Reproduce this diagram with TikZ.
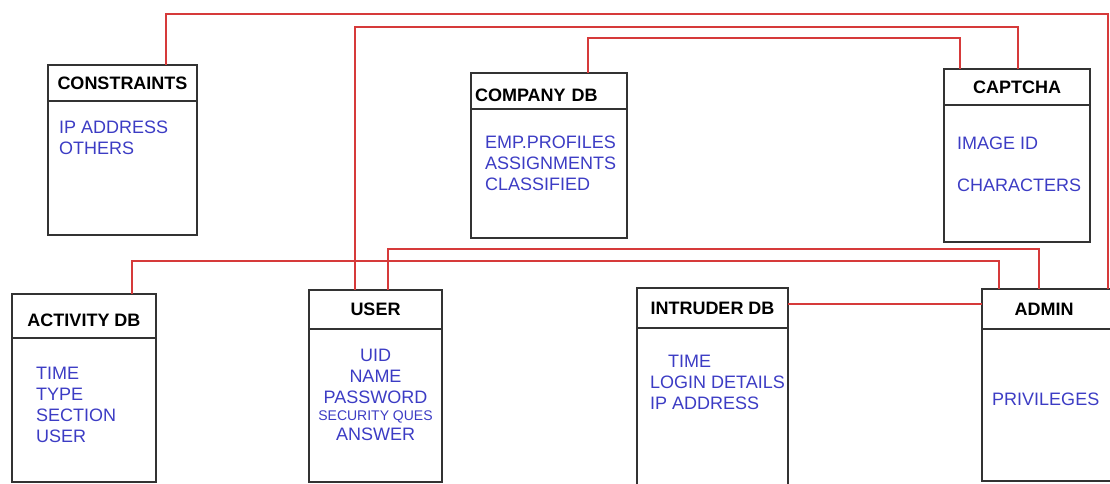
\documentclass[tikz,border=0pt]{standalone}
\usepackage{fontspec}
\setmainfont{Liberation Sans}
\usepackage{xcolor}
\definecolor{cBox}{HTML}{333333}
\definecolor{cLink}{HTML}{D63A3A}
\definecolor{cAttr}{HTML}{3C3CC4}
\usetikzlibrary{positioning,calc}
\tikzset{
  ent-head/.style={draw=cBox,line width=1.8pt,outer sep=0pt,inner sep=4pt,
    font=\fontsize{18}{21}\selectfont\bfseries},
  ent-body/.style={draw=cBox,line width=1.8pt,outer sep=0pt},
  attr-text/.style={text=cAttr,inner sep=0pt,align=left,
    font=\fontsize{18}{21}\selectfont},
  link/.style={draw=cLink,line width=1.6pt},
}

\begin{document}
\begin{tikzpicture}[x=1pt,y=-1pt]
  \useasboundingbox (0,0) rectangle (1110,484);
  \clip (0,0) rectangle (1110,484);

  % upper row
  \node[ent-head,minimum width=149,minimum height=36,anchor=north west] (cons) at (48,65) {CONSTRAINTS};
  \node[ent-body,minimum width=149,minimum height=134,below=0pt of cons] (cons-body) {};
  \node[attr-text,anchor=north west] (cons-attr) at ([shift={(11,19.5)}]cons-body.north west) {IP ADDRESS\\OTHERS};

  \node[ent-head,minimum width=156,minimum height=36,text width=148,text height=21pt,anchor=north west] (comp) at (471,73) {COMPANY DB};
  \node[ent-body,minimum width=156,minimum height=129,below=0pt of comp] (comp-body) {};
  \node[attr-text,anchor=north west] (comp-attr) at ([shift={(14,26.5)}]comp-body.north west) {EMP.PROFILES\\ASSIGNMENTS\\CLASSIFIED};

  \node[ent-head,minimum width=146,minimum height=36,anchor=north west] (capt) at (944,69) {CAPTCHA};
  \node[ent-body,minimum width=146,minimum height=137,below=0pt of capt] (capt-body) {};
  \node[attr-text,anchor=north west] (capt-attr) at ([shift={(13,31.5)}]capt-body.north west) {IMAGE ID\\[21pt]CHARACTERS};

  % lower row
  \node[ent-head,minimum width=144,minimum height=44,text height=21pt,anchor=north west] (actv) at (12,294) {ACTIVITY DB};
  \node[ent-body,minimum width=144,minimum height=144,below=0pt of actv] (actv-body) {};
  \node[attr-text,anchor=north west] (actv-attr) at ([shift={(24,29)}]actv-body.north west) {TIME\\TYPE\\SECTION\\USER};

  \node[ent-head,minimum width=133,minimum height=39,anchor=north west] (user) at (309,290) {USER};
  \node[ent-body,minimum width=133,minimum height=153,below=0pt of user] (user-body) {};
  \node[attr-text,align=center,anchor=north] (user-attr) at ([yshift=-19.5]user-body.north)
    {UID\\NAME\\PASSWORD\\[-3.5pt]{\fontsize{14}{18}\selectfont SECURITY QUES}\\[-1.5pt]ANSWER};

  \node[ent-head,minimum width=151,minimum height=40,anchor=north west] (intr) at (637,288) {INTRUDER DB};
  \node[ent-body,minimum width=151,minimum height=172,below=0pt of intr] (intr-body) {};
  \node[attr-text,anchor=north west] (intr-attr) at ([shift={(13,26.5)}]intr-body.north west) {\hspace*{18pt}TIME\\LOGIN DETAILS\\IP ADDRESS};

  \node[ent-head,minimum width=138,minimum height=40,text width=130,align=left,anchor=north west] (admin) at (982,289) {\hspace*{28.5pt}ADMIN};
  \node[ent-body,minimum width=138,minimum height=152,below=0pt of admin] (admin-body) {};
  \node[attr-text,anchor=north west] (admin-attr) at ([shift={(10,63.5)}]admin-body.north west) {PRIVILEGES};

  % relations
  \draw[link] ([xshift=43.5]cons.north) -- ++(0,-51) -| ([xshift=57]admin.north);
  \draw[link] ([xshift=-20.5]user.north) -- ++(0,-263) -| ([xshift=1]capt.north);
  \draw[link] ([xshift=39]comp.north) -- ++(0,-35) -| ([xshift=-57]capt.north);
  \draw[link] ([xshift=12.5]user.north) -- ++(0,-41) -| ([xshift=-12]admin.north);
  \draw[link] ([xshift=48]actv.north) -- ++(0,-33) -| ([xshift=-52]admin.north);
  \draw[link] ([yshift=4]intr.east) -- ([yshift=4]intr.east -| admin.west);
\end{tikzpicture}
\end{document}
